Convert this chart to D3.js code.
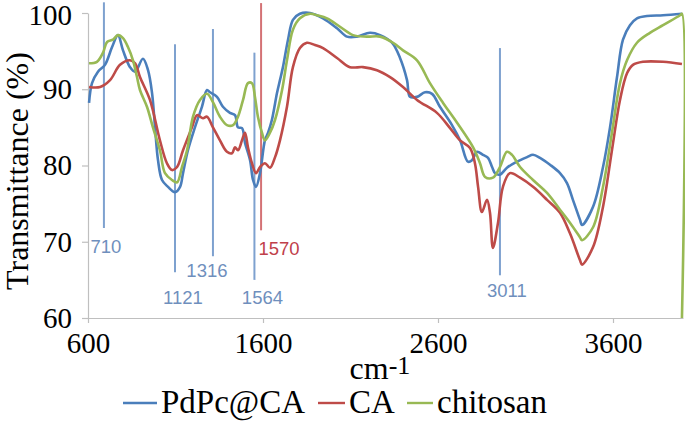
<!DOCTYPE html>
<html>
<head>
<meta charset="utf-8">
<script src="https://cdn.jsdelivr.net/npm/d3@7"></script>
<style>
  body { margin: 0; background: #fff; }
  svg { display: block; }
</style>
</head>
<body>
<svg id="canvas" width="685" height="441"></svg>
<script>
'use strict';

// spectra: [wavenumber (cm-1), transmittance (%)]
const pdpcCA = [
  [606,88.2],[623,90.8],[657,92.3],[697,93.2],[737,95.5],[771,97.1],[800,95.1],[840,92.9],
  [869,92.3],[914,94.0],[943,92.5],[966,89.5],[983,85.0],[1000,80.7],[1023,78.1],[1057,77.2],
  [1097,76.5],[1126,77.2],[1143,79.0],[1171,82.0],[1211,85.0],[1251,87.7],[1280,89.9],[1297,89.6],
  [1337,89.0],[1371,87.7],[1411,86.9],[1440,86.6],[1457,85.0],[1480,84.9],[1497,83.0],[1526,80.7],
  [1543,78.1],[1560,77.2],[1583,79.0],[1611,83.3],[1629,84.3],[1651,86.0],[1680,89.5],[1697,91.2],
  [1714,92.9],[1743,96.5],[1771,99.1],[1811,99.9],[1869,100],[1943,99.3],[2023,98.0],[2080,96.9],
  [2137,96.9],[2211,97.4],[2269,97.1],[2337,96.1],[2383,94.1],[2423,91.2],[2440,89.0],[2480,89.0],
  [2526,89.6],[2566,89.4],[2611,87.7],[2680,85.3],[2726,83.3],[2771,80.5],[2794,80.7],[2823,81.8],
  [2857,81.4],[2886,81.0],[2909,79.8],[2926,79.0],[2954,78.8],[2994,79.7],[3051,80.5],[3109,81.1],
  [3143,81.4],[3183,81.0],[3240,80.1],[3297,79.0],[3337,77.7],[3371,75.5],[3411,72.9],[3423,72.2],
  [3486,74.6],[3543,79.8],[3583,85.0],[3623,91.6],[3657,96.5],[3697,98.4],[3737,99.3],[3794,99.6],
  [3886,99.7],[3994,99.9]
];

const ca = [
  [606,90.3],[669,90.3],[726,91.2],[783,93.2],[840,93.8],[869,93.4],[897,91.6],[954,88.6],
  [1011,83.3],[1051,80.3],[1080,79.4],[1109,79.8],[1143,82.0],[1194,85.0],[1223,86.6],[1257,86.2],
  [1280,86.4],[1314,85.0],[1354,83.3],[1394,81.8],[1423,81.6],[1440,82.4],[1457,82.0],[1480,83.3],
  [1497,84.3],[1514,82.4],[1537,80.3],[1560,79.0],[1583,79.8],[1611,80.3],[1640,79.7],[1669,81.1],
  [1697,83.3],[1737,87.7],[1771,92.9],[1811,95.4],[1851,96.1],[1897,95.8],[1943,95.4],[2023,94.1],
  [2097,92.9],[2171,92.9],[2251,92.5],[2326,91.6],[2400,90.3],[2480,88.6],[2594,86.9],[2669,84.9],
  [2726,83.3],[2783,82.3],[2811,80.3],[2829,77.2],[2851,73.9],[2880,75.5],[2897,73.8],[2914,69.2],
  [2943,72.5],[2971,77.2],[3011,79.0],[3069,78.4],[3143,77.2],[3223,75.5],[3297,73.8],[3354,71.1],
  [3411,67.6],[3423,67.0],[3486,69.3],[3543,74.6],[3594,82.0],[3640,88.6],[3680,92.1],[3714,93.2],
  [3771,93.6],[3886,93.6],[3994,93.3]
];

const chitosan = [
  [606,93.4],[651,93.6],[686,94.8],[709,96.2],[743,96.5],[771,97.1],[800,96.7],[829,95.5],
  [857,93.8],[880,91.6],[897,89.9],[937,87.7],[971,85.0],[1011,82.0],[1040,79.0],[1080,78.1],
  [1109,77.8],[1137,79.8],[1166,82.0],[1200,86.4],[1240,88.6],[1280,89.4],[1314,88.3],[1354,86.4],
  [1394,85.3],[1429,85.3],[1457,86.4],[1486,88.6],[1514,90.8],[1537,90.8],[1554,89.0],[1571,86.4],
  [1594,84.3],[1611,83.3],[1640,84.3],[1669,86.0],[1709,89.9],[1737,93.8],[1771,97.8],[1811,99.3],
  [1869,99.9],[1909,99.7],[1966,99.3],[2040,98.2],[2114,97.1],[2194,96.9],[2269,96.9],[2343,96.1],
  [2400,95.1],[2480,93.8],[2554,90.8],[2629,88.2],[2709,85.6],[2800,82.4],[2840,80.3],[2869,78.5],
  [2914,78.4],[2954,79.8],[2994,81.8],[3023,81.4],[3069,79.8],[3143,78.1],[3223,76.4],[3297,74.2],
  [3354,72.5],[3411,70.6],[3423,70.2],[3486,71.9],[3543,77.2],[3594,84.3],[3640,90.8],[3680,93.8],
  [3737,96.1],[3811,97.4],[3886,98.4],[3983,99.7],[3994,99.9],[3994,60]
];

const seriesNames = ['PdPc@CA', 'CA', 'chitosan'];
const xTicks = [600, 1600, 2600, 3600];
const yTicks = [60, 70, 80, 90, 100];

// peak markers: wavenumber where the marker is drawn, top / bottom in %, label, colour kind
const peaks = [
  {x: 691,  top: 101.4, bottom: 71.8, label: '710',  kind: 'blue'},
  {x: 1097, top: 95.9,  bottom: 66.0, label: '1121', kind: 'blue'},
  {x: 1314, top: 97.9,  bottom: 68.1, label: '1316', kind: 'blue'},
  {x: 1551, top: 94.8,  bottom: 65.0, label: '1564', kind: 'blue'},
  {x: 1589, top: 101.3, bottom: 71.5, label: '1570', kind: 'red'},
  {x: 2954, top: 95.4,  bottom: 65.6, label: '3011', kind: 'blue'}
];

/* styling */
const colors = {'PdPc@CA': '#4a7ebb', 'CA': '#be4b48', 'chitosan': '#98b954'};
const peakLine = {blue: '#7ea1cf', red: '#d47275'};
const peakText = {blue: '#6f8fbd', red: '#c0404a'};
// label offset from the bottom of each marker line (px)
const labelOffset = {'710': [2, 25], '1121': [8, 32], '1316': [-6, 21], '1564': [8, 24], '1570': [18, 25], '3011': [7, 22]};

const W = 685, H = 441;
const margin = {top: 13, right: 2, bottom: 123, left: 88};

const x = d3.scaleLinear().domain([600, 4000]).range([margin.left, W - margin.right]);
const y = d3.scaleLinear().domain([60, 100]).range([H - margin.bottom, margin.top]);

const svg = d3.select('svg#canvas');
const serif = '"Liberation Serif", "Times New Roman", serif';
const sans = '"Liberation Sans", Arial, sans-serif';

/* axes */
const gy = svg.append('g')
  .attr('transform', 'translate(' + margin.left + ',0)')
  .call(d3.axisLeft(y).tickValues(yTicks).tickSize(6).tickSizeOuter(0).tickPadding(10));
const gx = svg.append('g')
  .attr('transform', 'translate(0,' + (H - margin.bottom) + ')')
  .call(d3.axisBottom(x).tickValues(xTicks).tickFormat(d3.format('d')).tickSize(5).tickSizeOuter(0).tickPadding(9));

[gx, gy].forEach(function(g){
  g.select('.domain').attr('stroke', '#bfbfbf').attr('stroke-width', 1.2);
  g.selectAll('.tick line').attr('stroke', '#bfbfbf').attr('stroke-width', 1.2);
  g.selectAll('.tick text')
    .attr('fill', '#000')
    .style('font-family', serif)
    .style('font-size', '29px');
});
// keep the top label inside the page
gy.selectAll('.tick text').attr('dy', d => d === 100 ? '0.4em' : '0.32em');

/* peak marker lines */
svg.append('g').selectAll('line')
  .data(peaks)
  .join('line')
    .attr('x1', d => x(d.x)).attr('x2', d => x(d.x))
    .attr('y1', d => y(d.top)).attr('y2', d => y(d.bottom))
    .attr('stroke', d => peakLine[d.kind])
    .attr('stroke-width', 2);

/* spectra */
const line = d3.line()
  .x(d => x(d[0]))
  .y(d => y(d[1]))
  .curve(d3.curveCatmullRom.alpha(0.5));
svg.append('g').selectAll('path')
  .data([pdpcCA, ca, chitosan])
  .join('path')
    .attr('d', line)
    .attr('fill', 'none')
    .attr('stroke', (d, i) => colors[seriesNames[i]])
    .attr('stroke-width', 2.6)
    .attr('stroke-linejoin', 'round');

/* peak labels */
svg.append('g').selectAll('text')
  .data(peaks)
  .join('text')
    .attr('x', d => x(d.x) + labelOffset[d.label][0])
    .attr('y', d => y(d.bottom) + labelOffset[d.label][1])
    .attr('text-anchor', 'middle')
    .attr('fill', d => peakText[d.kind])
    .style('font-family', sans)
    .style('font-size', '18.5px')
    .text(d => d.label);

/* axis titles */
svg.append('text')
  .attr('transform', 'translate(28,171) rotate(-90)')
  .attr('text-anchor', 'middle')
  .style('font-family', serif)
  .style('font-size', '32px')
  .text('Transmittance (%)');

const xt = svg.append('text')
  .attr('x', 380).attr('y', 379)
  .attr('text-anchor', 'middle')
  .style('font-family', serif)
  .style('font-size', '32px');
xt.append('tspan').text('cm');
xt.append('tspan').attr('dy', -5).style('font-size', '26px').text('-1');

/* legend */
const legendPos = [{x: 123, w: 34}, {x: 318, w: 27}, {x: 407, w: 26}];
const lg = svg.append('g').selectAll('g')
  .data(seriesNames)
  .join('g')
    .attr('transform', (d, i) => 'translate(' + legendPos[i].x + ',403)');
lg.append('line')
  .attr('x1', 0).attr('x2', (d, i) => legendPos[i].w)
  .attr('stroke', d => colors[d]).attr('stroke-width', 2.4);
lg.append('text')
  .attr('x', (d, i) => legendPos[i].w + 4)
  .attr('y', 10)
  .style('font-family', serif)
  .style('font-size', '33px')
  .text(d => d);
</script>
</body>
</html>
